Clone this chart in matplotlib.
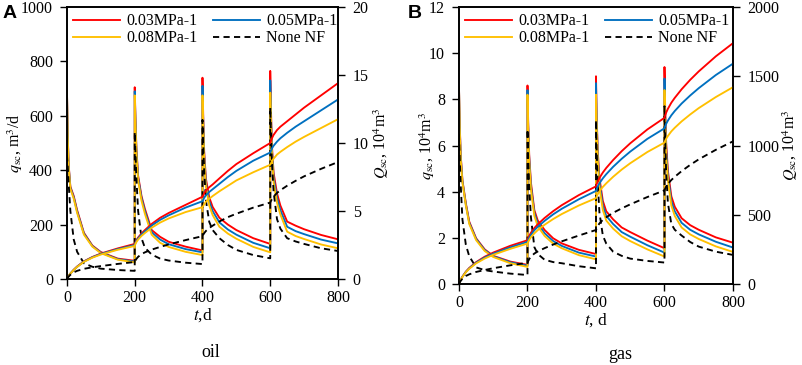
import matplotlib
matplotlib.use("Agg")
import matplotlib.pyplot as plt
import numpy as np

plt.rcParams['font.family'] = 'Liberation Serif'
plt.rcParams['mathtext.fontset'] = 'stix'
plt.rcParams['font.size'] = 11.5

# restart times of the four segments and sample offsets (days) inside each segment
seg_starts = [0, 200, 400, 600]
offsets = [0, 2, 5, 10, 20, 30, 50, 75, 100, 150, 200]

labels = ['0.03MPa-1', '0.05MPa-1', '0.08MPa-1', 'None NF']
colors = ['#FF0000', '#0070C0', '#FFC000', 'black']

# ---- oil: rate q (m3/d), one list per segment
oil_q_003 = [[690, 540, 420, 340, 305, 253, 170, 123, 99, 75, 67],
             [705, 600, 480, 380, 305, 258, 180, 155, 137, 119, 105],
             [740, 610, 470, 370, 300, 265, 225, 200, 180, 150, 129],
             [765, 630, 490, 390, 315, 270, 211, 196, 183, 162, 146]]
oil_q_005 = [[690, 535, 415, 336, 300, 248, 167, 121, 97, 73, 64],
             [690, 590, 470, 372, 298, 250, 172, 145, 128, 110, 98],
             [710, 590, 455, 355, 285, 250, 208, 182, 163, 133, 113],
             [730, 605, 475, 372, 298, 253, 192, 176, 165, 145, 131]]
oil_q_008 = [[690, 530, 410, 332, 295, 243, 163, 119, 95, 71, 61],
             [675, 575, 460, 362, 288, 240, 163, 133, 118, 100, 88],
             [675, 570, 440, 340, 270, 235, 192, 167, 148, 118, 98],
             [685, 575, 455, 355, 280, 237, 174, 158, 147, 127, 113]]
oil_q_none = [[455, 420, 350, 250, 145, 100, 58, 45, 38, 33, 30],
              [540, 470, 370, 250, 150, 115, 90, 75, 68, 60, 55],
              [585, 500, 400, 290, 210, 180, 150, 125, 107, 88, 76],
              [630, 540, 430, 320, 220, 185, 150, 138, 129, 113, 103]]

# ---- oil: cumulative Q (10^4 m3)
oil_Q_003 = [[0, 0.1, 0.24, 0.4, 0.68, 0.92, 1.3, 1.62, 1.87, 2.25, 2.58],
             [2.58, 2.7, 2.86, 3.05, 3.35, 3.6, 4.05, 4.5, 4.85, 5.45, 6.05],
             [6.05, 6.15, 6.3, 6.5, 6.75, 6.95, 7.4, 7.95, 8.45, 9.25, 10.0],
             [10.0, 10.15, 10.35, 10.6, 10.95, 11.2, 11.6, 12.1, 12.6, 13.5, 14.4]]
oil_Q_005 = [[0, 0.1, 0.24, 0.4, 0.67, 0.9, 1.28, 1.6, 1.84, 2.2, 2.5],
             [2.5, 2.64, 2.8, 2.98, 3.27, 3.5, 3.93, 4.35, 4.68, 5.25, 5.72],
             [5.72, 5.82, 5.97, 6.15, 6.4, 6.6, 7.0, 7.5, 7.95, 8.7, 9.3],
             [9.3, 9.42, 9.6, 9.8, 10.1, 10.35, 10.75, 11.2, 11.6, 12.4, 13.2]]
oil_Q_008 = [[0, 0.1, 0.23, 0.39, 0.66, 0.89, 1.26, 1.57, 1.8, 2.15, 2.43],
             [2.43, 2.57, 2.72, 2.9, 3.17, 3.38, 3.77, 4.15, 4.45, 4.92, 5.28],
             [5.28, 5.36, 5.5, 5.68, 5.9, 6.1, 6.45, 6.85, 7.25, 7.85, 8.4],
             [8.4, 8.5, 8.65, 8.85, 9.15, 9.35, 9.7, 10.1, 10.45, 11.1, 11.75]]
oil_Q_none = [[0, 0.08, 0.18, 0.31, 0.49, 0.6, 0.75, 0.86, 0.95, 1.11, 1.25],
              [1.25, 1.35, 1.48, 1.63, 1.83, 1.96, 2.16, 2.36, 2.54, 2.86, 3.15],
              [3.15, 3.25, 3.37, 3.53, 3.75, 3.92, 4.23, 4.55, 4.8, 5.25, 5.62],
              [5.62, 5.73, 5.87, 6.06, 6.33, 6.53, 6.86, 7.22, 7.55, 8.1, 8.6]]

# ---- gas: rate q (10^4 m3)
gas_q_003 = [[8.5, 7.0, 5.6, 4.5, 3.5, 2.7, 1.98, 1.5, 1.22, 0.97, 0.83],
             [8.6, 7.0, 5.6, 4.4, 3.2, 2.75, 2.34, 1.98, 1.76, 1.48, 1.3],
             [9.0, 7.3, 5.8, 4.6, 3.6, 3.15, 2.8, 2.45, 2.25, 1.88, 1.55],
             [9.4, 7.6, 6.1, 4.9, 3.8, 3.35, 2.85, 2.55, 2.35, 2.02, 1.79]]
gas_q_005 = [[8.5, 6.9, 5.5, 4.45, 3.45, 2.65, 1.95, 1.47, 1.2, 0.94, 0.79],
             [8.4, 6.85, 5.45, 4.25, 3.08, 2.62, 2.2, 1.86, 1.65, 1.36, 1.19],
             [8.7, 7.1, 5.6, 4.4, 3.4, 2.95, 2.6, 2.25, 2.05, 1.68, 1.36],
             [8.9, 7.3, 5.8, 4.7, 3.6, 3.15, 2.65, 2.35, 2.15, 1.83, 1.58]]
gas_q_008 = [[8.5, 6.8, 5.4, 4.4, 3.4, 2.6, 1.9, 1.43, 1.17, 0.9, 0.74],
             [8.2, 6.7, 5.3, 4.1, 2.95, 2.5, 2.08, 1.75, 1.55, 1.25, 1.07],
             [8.2, 6.8, 5.4, 4.2, 3.2, 2.75, 2.4, 2.07, 1.86, 1.5, 1.19],
             [8.4, 6.9, 5.5, 4.5, 3.4, 2.95, 2.45, 2.15, 1.95, 1.63, 1.39]]
gas_q_none = [[6.5, 5.5, 4.3, 2.8, 1.7, 1.2, 0.72, 0.6, 0.54, 0.45, 0.39],
              [6.7, 5.5, 4.2, 2.9, 1.6, 1.3, 1.05, 0.95, 0.9, 0.77, 0.68],
              [7.1, 5.8, 4.4, 3.1, 2.1, 1.75, 1.4, 1.22, 1.1, 1.0, 0.93],
              [7.7, 6.2, 4.8, 3.5, 2.6, 2.35, 2.1, 1.82, 1.62, 1.4, 1.26]]

# ---- gas: cumulative Q (10^4 m3)
gas_Q_003 = [[0, 14, 31, 53, 89, 116, 158, 197, 227, 276, 316],
             [316, 331, 347, 370, 404, 431, 477, 526, 569, 642, 705],
             [705, 721, 740, 765, 805, 838, 895, 959, 1016, 1116, 1200],
             [1200, 1217, 1238, 1265, 1309, 1344, 1406, 1474, 1535, 1644, 1739]]
gas_Q_005 = [[0, 14, 30, 52, 87, 113, 154, 191, 219, 265, 304],
             [304, 318, 333, 355, 388, 413, 456, 503, 543, 612, 672],
             [672, 686, 704, 727, 763, 793, 846, 904, 956, 1048, 1124],
             [1124, 1139, 1157, 1180, 1218, 1249, 1303, 1361, 1414, 1509, 1591]]
gas_Q_008 = [[0, 14, 30, 51, 85, 110, 149, 184, 211, 254, 292],
             [292, 304, 318, 338, 366, 389, 428, 469, 505, 567, 620],
             [620, 633, 648, 669, 701, 727, 774, 826, 872, 953, 1021],
             [1021, 1034, 1049, 1069, 1102, 1128, 1174, 1224, 1270, 1350, 1421]]
gas_Q_none = [[0, 10, 23, 38, 58, 70, 87, 101, 114, 135, 153],
              [153, 165, 180, 198, 220, 235, 259, 285, 308, 350, 390],
              [390, 403, 418, 437, 463, 482, 514, 546, 575, 628, 676],
              [676, 689, 704, 723, 751, 774, 815, 860, 900, 969, 1030]]


def join(segs):
    t = np.concatenate([s + np.array(offsets) for s in seg_starts])
    v = np.concatenate([np.array(seg) for seg in segs])
    return t, v


def panel(rect, q_sets, Q_sets, ylim, yticks, y2lim, y2ticks, ylabel, y2label, xlabel,
          lab_x, lab2_x):
    ax = fig.add_axes(rect)
    ax2 = ax.twinx()
    handles = []
    for i in range(4):
        ls = (0, (3.3, 2.3)) if i == 3 else '-'
        tq, vq = join(q_sets[i])
        h, = ax.plot(tq, vq, color=colors[i], ls=ls, lw=1.35, label=labels[i])
        handles.append(h)
        tQ, vQ = join(Q_sets[i])
        ax2.plot(tQ, vQ, color=colors[i], ls=ls, lw=1.35)
    ax.set_xlim(0, 800)
    ax.set_xticks([0, 200, 400, 600, 800])
    ax.set_ylim(*ylim)
    ax.set_yticks(yticks)
    ax2.set_ylim(*y2lim)
    ax2.set_yticks(y2ticks)
    ax.set_ylabel(ylabel, fontsize=11.5)
    ax2.set_ylabel(y2label, fontsize=11.5)
    ax.yaxis.set_label_coords(lab_x, 0.5)
    ax2.yaxis.set_label_coords(lab2_x, 0.5)
    ax.set_xlabel(xlabel, labelpad=0, fontsize=12.5)
    for a in (ax, ax2):
        a.tick_params(direction='out', length=5, width=1, pad=3)
        for sp in a.spines.values():
            sp.set_linewidth(1.2)
    ax.tick_params(axis='y', pad=5)
    ax2.tick_params(axis='y', pad=5.5)
    ax.legend([handles[0], handles[2], handles[1], handles[3]],
              [labels[0], labels[2], labels[1], labels[3]],
              ncol=2, loc='upper left', frameon=False, handlelength=2.9,
              handletextpad=0.4, columnspacing=1.0, labelspacing=0.05,
              borderaxespad=0.2, borderpad=0.2)
    return ax


fig = plt.figure(figsize=(8.03, 3.65), dpi=100)

panel([0.0834, 0.2356, 0.3375, 0.7452],
      [oil_q_003, oil_q_005, oil_q_008, oil_q_none],
      [oil_Q_003, oil_Q_005, oil_Q_008, oil_Q_none],
      (0, 1000), range(0, 1001, 200), (0, 20), [0, 5, 10, 15, 20],
      r'$q_{\rm sc}$, m$^3$/d', r'$Q_{\rm sc}$, 10$^4$m$^3$', r'$t$,d',
      -0.155, 1.125)

panel([0.5716, 0.2219, 0.3412, 0.7589],
      [gas_q_003, gas_q_005, gas_q_008, gas_q_none],
      [gas_Q_003, gas_Q_005, gas_Q_008, gas_Q_none],
      (0, 12), range(0, 13, 2), (0, 2000), [0, 500, 1000, 1500, 2000],
      r'$q_{\rm sc}$, 10$^4$m$^3$', r'$Q_{\rm sc}$, 10$^4$m$^3$', r'$t$, d',
      -0.08, 1.172)

fig.text(0.003, 0.985, 'A', family='Liberation Sans', weight='bold', fontsize=14, va='top')
fig.text(0.508, 0.985, 'B', family='Liberation Sans', weight='bold', fontsize=14, va='top')
fig.text(0.262, 0.033, 'oil', ha='center', va='center', fontsize=13)
fig.text(0.772, 0.030, 'gas', ha='center', va='center', fontsize=13)

fig.savefig('out.png', dpi=100)
